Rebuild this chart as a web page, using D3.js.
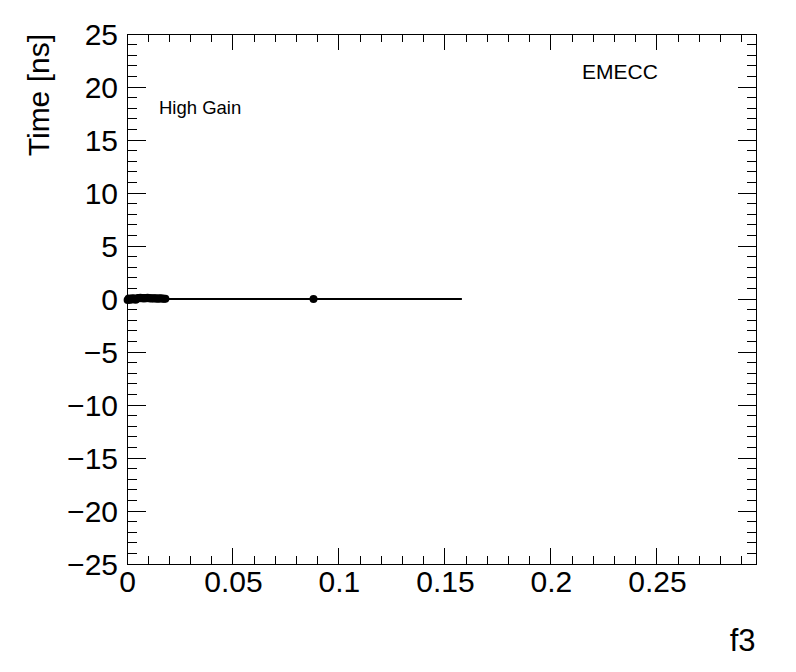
<!DOCTYPE html>
<html>
<head>
<meta charset="utf-8">
<script src="https://cdn.jsdelivr.net/npm/d3@7"></script>
<style>
html,body{margin:0;padding:0;background:#fff;}
svg{display:block;}
text{font-family:"Liberation Sans",Arial,Helvetica,sans-serif;fill:#000;}
</style>
</head>
<body>
<svg id="c" width="796" height="672"></svg>
<script>
// ---- data ----
const xDomain = [0, 0.297];
const yDomain = [-25, 25];
const xTickValues = [0, 0.05, 0.1, 0.15, 0.2, 0.25];
const xTickLabels = ["0", "0.05", "0.1", "0.15", "0.2", "0.25"];
const yTickValues = [-25, -20, -15, -10, -5, 0, 5, 10, 15, 20, 25];
const yTickLabels = ["\u221225", "\u221220", "\u221215", "\u221210", "\u22125", "0", "5", "10", "15", "20", "25"];
const pointX = [0.0003, 0.0008, 0.0012, 0.0017, 0.0021, 0.0026, 0.0030, 0.0035, 0.0041, 0.0046,
                0.0052, 0.0058, 0.0063, 0.0069, 0.0074, 0.0080, 0.0086, 0.0091, 0.0097, 0.0103,
                0.0109, 0.0115, 0.0121, 0.0128, 0.0134, 0.0140, 0.0147, 0.0153, 0.0160, 0.0167,
                0.0174, 0.0181, 0.0880];
const pointY = [-0.10, 0.05, -0.08, 0.02, -0.05, 0.08, -0.03, 0.04, -0.06, 0.03,
                0.10, 0.06, 0.12, 0.08, 0.10, 0.05, 0.09, 0.07, 0.11, 0.06,
                0.08, 0.05, 0.07, 0.04, 0.06, 0.05, 0.03, 0.06, 0.04, 0.05,
                0.03, 0.02, 0.00];
const lineX = [0, 0.158];
const lineY = [0, 0];
const xTitle = "f3";
const yTitle = "Time [ns]";
const label1 = "High Gain";
const label2 = "EMECC";

// ---- layout ----
const svg = d3.select("#c");
const L = 127, R = 756.5, T = 34, B = 564;
const x = d3.scaleLinear().domain(xDomain).range([L, R]);
const y = d3.scaleLinear().domain(yDomain).range([B, T]);

const g = svg.append("g");

const xMinor = d3.range(0, 30).map(i => i / 100).filter(v => v <= xDomain[1] + 1e-9);
const yMinor = d3.range(-25, 26);

const xMajLen = 16, xMinLen = 8, yMajLen = 19, yMinLen = 9.5;

// bottom axis
const xAxisB = d3.axisBottom(x).tickValues(xTickValues)
  .tickFormat((d, i) => xTickLabels[i]).tickSize(0).tickPadding(0);
const gb = g.append("g").attr("transform", `translate(0,${B})`).call(xAxisB);
gb.select(".domain").remove();
gb.selectAll("text").attr("font-size", 30).attr("font-family", "Liberation Sans, Arial, sans-serif")
  .attr("dy", null).attr("y", 28);

// left axis
const yAxisL = d3.axisLeft(y).tickValues(yTickValues)
  .tickFormat((d, i) => yTickLabels[i]).tickSize(0).tickPadding(9);
const gl = g.append("g").attr("transform", `translate(${L},0)`).call(yAxisL);
gl.select(".domain").remove();
gl.selectAll("text").attr("font-size", 30).attr("font-family", "Liberation Sans, Arial, sans-serif").attr("dy", "0.36em");

// tick marks on all sides
const tk = g.append("g").attr("stroke", "#000").attr("stroke-width", 1).attr("shape-rendering", "crispEdges");
xMinor.forEach(v => {
  const isMaj = xTickValues.some(t => Math.abs(t - v) < 1e-9);
  const len = isMaj ? xMajLen : xMinLen;
  tk.append("line").attr("x1", x(v)).attr("x2", x(v)).attr("y1", B).attr("y2", B - len);
  tk.append("line").attr("x1", x(v)).attr("x2", x(v)).attr("y1", T).attr("y2", T + len);
});
yMinor.forEach(v => {
  const isMaj = yTickValues.includes(v);
  const len = isMaj ? yMajLen : yMinLen;
  tk.append("line").attr("x1", L).attr("x2", L + len).attr("y1", y(v)).attr("y2", y(v));
  tk.append("line").attr("x1", R).attr("x2", R - len).attr("y1", y(v)).attr("y2", y(v));
});

// frame
g.append("rect").attr("x", L).attr("y", T).attr("width", R - L).attr("height", B - T)
  .attr("fill", "none").attr("stroke", "#000").attr("stroke-width", 1).attr("shape-rendering", "crispEdges");

// line
const lineData = lineX.map((v, i) => [v, lineY[i]]);
g.append("path").datum(lineData)
  .attr("d", d3.line().x(d => x(d[0])).y(d => y(d[1])))
  .attr("stroke", "#000").attr("stroke-width", 2).attr("fill", "none");

// points
g.append("g").selectAll("circle").data(pointX.map((v, i) => [v, pointY[i]]))
  .join("circle").attr("cx", d => x(d[0])).attr("cy", d => y(d[1])).attr("r", 4).attr("fill", "#000");

// titles
g.append("text").attr("x", R - 1).attr("y", 651).attr("text-anchor", "end")
  .attr("font-size", 31).text(xTitle);
g.append("text").attr("transform", `translate(49,${T}) rotate(-90)`).attr("text-anchor", "end")
  .attr("font-size", 30).text(yTitle);

// labels
g.append("text").attr("x", 159).attr("y", 114).attr("font-size", 18.5).text(label1);
g.append("text").attr("x", 582).attr("y", 79).attr("font-size", 21).text(label2);
</script>
</body>
</html>
